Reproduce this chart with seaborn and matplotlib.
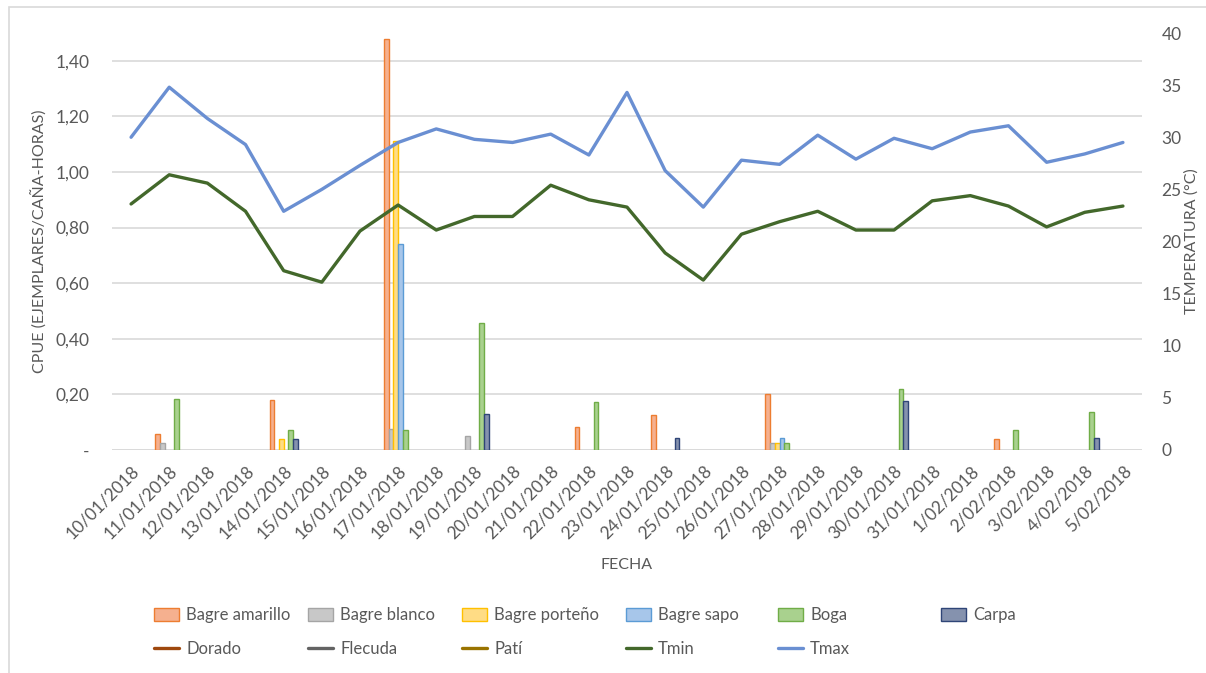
import numpy as np
import pandas as pd
import matplotlib
matplotlib.use('Agg')
import matplotlib.pyplot as plt
import seaborn as sns
from matplotlib.lines import Line2D
from matplotlib.patches import Patch, Rectangle

fechas = ['10/01/2018', '11/01/2018', '12/01/2018', '13/01/2018', '14/01/2018',
          '15/01/2018', '16/01/2018', '17/01/2018', '18/01/2018', '19/01/2018',
          '20/01/2018', '21/01/2018', '22/01/2018', '23/01/2018', '24/01/2018',
          '25/01/2018', '26/01/2018', '27/01/2018', '28/01/2018', '29/01/2018',
          '30/01/2018', '31/01/2018', '1/02/2018', '2/02/2018', '3/02/2018',
          '4/02/2018', '5/02/2018']

# CPUE por especie (0 = sin captura)
bagre_amarillo = [0, 0.056, 0, 0, 0.179, 0, 0, 1.48, 0, 0, 0, 0, 0.084, 0, 0.126,
                  0, 0, 0.20, 0, 0, 0, 0, 0, 0.038, 0, 0, 0]
bagre_blanco = [0, 0.026, 0, 0, 0, 0, 0, 0.074, 0, 0.050, 0, 0, 0, 0, 0,
                0, 0, 0.026, 0, 0, 0, 0, 0, 0, 0, 0, 0]
bagre_porteno = [0, 0, 0, 0, 0.038, 0, 0, 1.11, 0, 0, 0, 0, 0, 0, 0,
                 0, 0, 0.026, 0, 0, 0, 0, 0, 0, 0, 0, 0]
bagre_sapo = [0, 0, 0, 0, 0, 0, 0, 0.74, 0, 0, 0, 0, 0, 0, 0,
              0, 0, 0.044, 0, 0, 0, 0, 0, 0, 0, 0, 0]
boga = [0, 0.185, 0, 0, 0.073, 0, 0, 0.072, 0, 0.458, 0, 0, 0.172, 0, 0,
        0, 0, 0.026, 0, 0, 0.218, 0, 0, 0.073, 0, 0.137, 0]
carpa = [0, 0, 0, 0, 0.038, 0, 0, 0, 0, 0.131, 0, 0, 0, 0, 0.044,
         0, 0, 0, 0, 0, 0.177, 0, 0, 0, 0, 0.043, 0]

tmax = [30.0, 34.8, 31.8, 29.3, 22.9, 25.0, 27.3, 29.5, 30.8, 29.8, 29.5, 30.3, 28.3,
        34.3, 26.8, 23.3, 27.8, 27.4, 30.2, 27.9, 29.9, 28.9, 30.5, 31.1, 27.6, 28.4, 29.5]
tmin = [23.6, 26.4, 25.6, 22.9, 17.2, 16.1, 21.0, 23.5, 21.1, 22.4, 22.4, 25.4, 24.0,
        23.3, 18.9, 16.3, 20.7, 21.9, 22.9, 21.1, 21.1, 23.9, 24.4, 23.4, 21.4, 22.8, 23.4]

especies = ['Bagre amarillo', 'Bagre blanco', 'Bagre porteño', 'Bagre sapo', 'Boga', 'Carpa']
relleno = ['#F5B08F', '#C8C8C8', '#FFDC85', '#A7C6EA', '#A9D18E', '#8592AE']
borde = ['#ED7D31', '#A5A5A5', '#FFC000', '#5B9BD5', '#70AD47', '#2F4577']

df = pd.DataFrame({'Fecha': fechas, 'Bagre amarillo': bagre_amarillo,
                   'Bagre blanco': bagre_blanco, 'Bagre porteño': bagre_porteno,
                   'Bagre sapo': bagre_sapo, 'Boga': boga, 'Carpa': carpa})
largo = df.melt(id_vars='Fecha', var_name='Especie', value_name='CPUE')

sns.set_style('white')
plt.rcParams['font.family'] = ['Lato', 'DejaVu Sans']
gris = '#595959'

fig = plt.figure(figsize=(12.06, 6.73), dpi=100)
ax = fig.add_axes([112 / 1206, 1 - 450 / 673, 1030 / 1206, 417 / 673])

sns.barplot(data=largo, x='Fecha', y='CPUE', hue='Especie', hue_order=especies,
            palette=dict(zip(especies, relleno)), width=0.74, saturation=1,
            ax=ax, legend=False)
for cont, ec in zip(ax.containers, borde):
    for b in cont:
        b.set_edgecolor(ec)
        b.set_linewidth(1.0)
        if b.get_height() == 0:
            b.set_visible(False)

ax.set_ylim(0, 1.5)
ax.set_xlim(-0.5, len(fechas) - 0.5)
ax.set_yticks(np.arange(0, 1.41, 0.2))
ax.set_yticklabels(['-'] + [f'{v:.2f}'.replace('.', ',') for v in np.arange(0.2, 1.41, 0.2)])
ax.yaxis.grid(True, color='#D9D9D9', linewidth=1.2)
ax.set_axisbelow(True)
for s in ax.spines.values():
    s.set_visible(False)
ax.axhline(0, color='#D9D9D9', linewidth=1.2, zorder=0)
ax.tick_params(axis='y', colors=gris, labelsize=12.5, length=0, pad=16)
ax.set_xticks(range(len(fechas)))
ax.set_xticklabels(fechas, rotation=45, ha='right', rotation_mode='anchor')
ax.tick_params(axis='x', colors=gris, labelsize=12.5, length=0, pad=9)
ax.set_xlabel('FECHA', color=gris, fontsize=11.5, labelpad=12)
ax.set_ylabel('CPUE (EJEMPLARES/CAÑA-HORAS)', color=gris, fontsize=11.5, labelpad=6)

ax2 = ax.twinx()
x = np.arange(len(fechas))
sns.lineplot(x=x, y=tmin, color='#43682B', linewidth=2.4, ax=ax2)
sns.lineplot(x=x, y=tmax, color='#6A8FD2', linewidth=2.4, ax=ax2)
ax2.set_ylim(0, 39.9)
ax2.set_yticks(range(0, 41, 5))
for s in ax2.spines.values():
    s.set_visible(False)
ax2.tick_params(axis='y', colors=gris, labelsize=12.5, length=0, pad=14)
ax2.set_ylabel('TEMPERATURA (°C)', color=gris, fontsize=11.5, labelpad=2)

# leyenda por columnas
handles = [Patch(facecolor=f, edgecolor=e, linewidth=1.0) for f, e in zip(relleno, borde)]
lineas = [Line2D([], [], color='#9E480E', lw=2.4), Line2D([], [], color='#636363', lw=2.4),
          Line2D([], [], color='#997300', lw=2.4), Line2D([], [], color='#43682B', lw=2.4),
          Line2D([], [], color='#6A8FD2', lw=2.4)]
nombres_lineas = ['Dorado', 'Flecuda', 'Patí', 'Tmin', 'Tmax']
col_x = [146, 300, 454, 618, 770, 933]
for i, cx in enumerate(col_x):
    h = [handles[i]]
    l = [especies[i]]
    if i < len(lineas):
        h.append(lineas[i])
        l.append(nombres_lineas[i])
    fig.legend(h, l, loc='upper left', bbox_to_anchor=(cx / 1206, 1 - 599 / 673),
               frameon=False, fontsize=12, labelcolor=gris, handlelength=1.5,
               handleheight=0.8, handletextpad=0.4, labelspacing=1.05, borderpad=0)

fig.patches.append(Rectangle((9 / 1206, -0.02), 1.1, 1 - 7 / 673 + 0.02,
                             transform=fig.transFigure, fill=False,
                             edgecolor='#D9D9D9', linewidth=1.2))

fig.savefig('out.png', dpi=100)
